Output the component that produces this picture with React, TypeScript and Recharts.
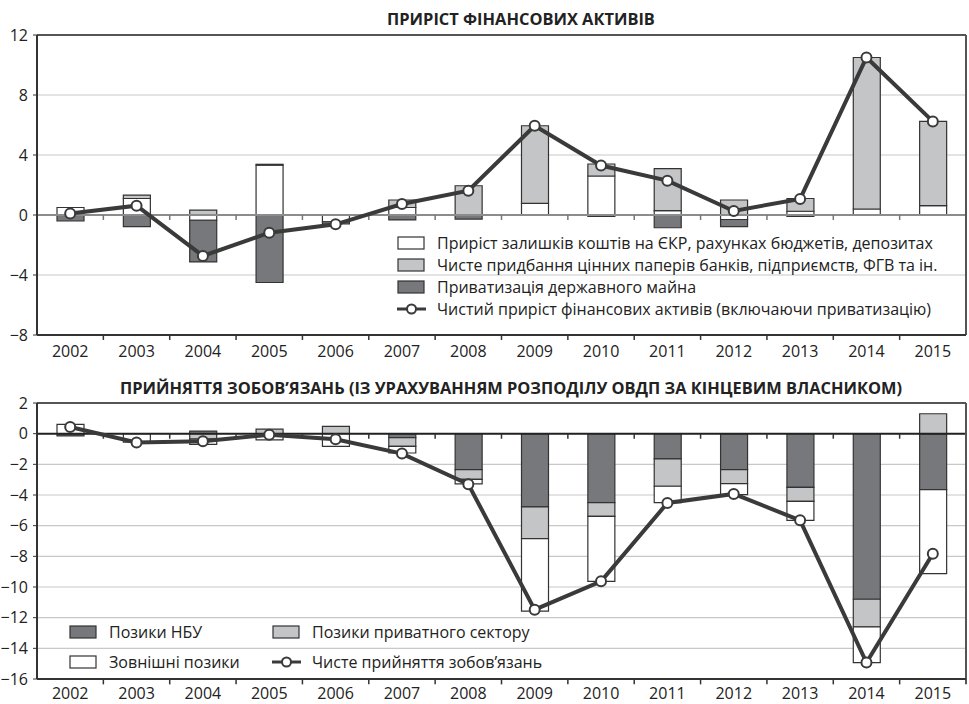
import React from "react";
import { ComposedChart, Bar, Line, XAxis, YAxis, CartesianGrid, ReferenceLine, Legend } from "recharts";

const years = ["2002", "2003", "2004", "2005", "2006", "2007", "2008", "2009", "2010", "2011", "2012", "2013", "2014", "2015"];

// приріст фінансових активів
const depositGrowth = [0.5, 1.1, -0.35, 3.33, -0.45, 0.5, 0, 0.78, 2.6, 0.29, -0.3, 0.25, 0.4, 0.62];
const securitiesPurchase = [0, 0.23, 0.33, 0.05, 0, 0.5, 1.95, 5.17, 0.8, 2.8, 1.0, 0.85, 10.1, 5.62];
const privatization = [-0.4, -0.78, -2.78, -4.5, -0.15, -0.33, -0.27, 0, -0.1, -0.85, -0.48, -0.1, 0, 0];
const netAssets = [0.1, 0.62, -2.73, -1.18, -0.62, 0.73, 1.62, 5.95, 3.3, 2.29, 0.27, 1.07, 10.5, 6.24];
const topNames = [
  "Приріст залишків коштів на ЄКР, рахунках бюджетів, депозитах",
  "Чисте придбання цінних паперів банків, підприємств, ФГВ та ін.",
  "Приватизація державного майна",
  "Чистий приріст фінансових активів (включаючи приватизацію)",
];

// прийняття зобов'язань
const nbuLoans = [-0.15, 0, 0.17, 0, 0, -0.26, -2.35, -4.78, -4.5, -1.65, -2.35, -3.5, -10.8, -3.65];
const privateLoans = [0, 0, -0.35, 0.3, 0.48, -0.57, -0.63, -2.07, -0.89, -1.78, -0.91, -0.91, -1.8, 1.3];
const externalLoans = [0.6, -0.55, -0.35, -0.4, -0.83, -0.43, -0.3, -4.72, -4.24, -1.07, -0.72, -1.24, -2.33, -5.48];
const netLiabilities = [0.43, -0.57, -0.5, -0.07, -0.37, -1.3, -3.3, -11.48, -9.63, -4.52, -3.93, -5.65, -14.93, -7.83];
const bottomNames = ["Позики НБУ", "Позики приватного сектору", "Зовнішні позики", "Чисте прийняття зобов’язань"];

const topTicks = [12, 8, 4, 0, -4, -8];
const bottomTicks = [2, 0, -2, -4, -6, -8, -10, -12, -14, -16];
const boundaries = [1, 2, 3, 4, 5, 6, 7, 8, 9, 10, 11, 12, 13];

const FONT = '"Open Sans", sans-serif';
const DARK = "#77787b";
const LIGHT = "#c4c5c7";
const LINE = "#3a3a3a";

const topData = years.map((year, i) => ({
  year,
  pos: i + 0.5,
  deposits: depositGrowth[i],
  securities: securitiesPurchase[i],
  privat: privatization[i],
  net: netAssets[i],
}));

const bottomData = years.map((year, i) => ({
  year,
  pos: i + 0.5,
  nbu: nbuLoans[i],
  priv: privateLoans[i],
  ext: externalLoans[i],
  net: netLiabilities[i],
}));

const fmt = (v: number) => (v < 0 ? `\u2212${Math.abs(v)}` : `${v}`);

function LegendIcon({ type, color }: { type: string; color: string }) {
  if (type === "line") {
    return (
      <svg width={29} height={14} style={{ display: "block", flexShrink: 0 }}>
        <line x1={0} y1={7} x2={29} y2={7} stroke={LINE} strokeWidth={3} />
        <circle cx={14.5} cy={7} r={4.5} fill="#fff" stroke={LINE} strokeWidth={2} />
      </svg>
    );
  }
  return (
    <svg width={29} height={14} style={{ display: "block", flexShrink: 0 }}>
      <rect x={1} y={1} width={26} height={12} fill={color} stroke="#333" strokeWidth={1.2} />
    </svg>
  );
}

const makeLegend = (order: string[], rowGap: number, colWidths: number[]) => (props: any) => {
  const items = [...(props.payload || [])].sort((a: any, b: any) => order.indexOf(a.value) - order.indexOf(b.value));
  return (
    <div
      style={{
        display: "grid",
        gridTemplateColumns: colWidths.map((w) => `${w}px`).join(" "),
        rowGap,
        fontFamily: FONT,
        fontSize: 16,
        color: "#222",
      }}
    >
      {items.map((entry: any, k: number) => (
        <div key={k} style={{ display: "flex", alignItems: "center", gap: 11, height: 20, whiteSpace: "nowrap" }}>
          <LegendIcon type={entry.type} color={entry.payload?.fill ?? entry.color} />
          <span>{entry.value}</span>
        </div>
      ))}
    </div>
  );
};

const titleStyle: React.CSSProperties = {
  position: "absolute",
  fontFamily: FONT,
  fontWeight: 700,
  fontSize: 16.4,
  color: "#222",
  whiteSpace: "nowrap",
  transform: "translateX(-50%)",
};

const tickStyle = { fill: "#222", fontSize: 16, fontFamily: FONT };

export default function App() {
  return (
    <div style={{ position: "fixed", left: 0, top: 0, width: 969, height: 704, background: "#fff" }}>
      <div style={{ ...titleStyle, left: 521, top: 7 }}>ПРИРІСТ ФІНАНСОВИХ АКТИВІВ</div>
      <div style={{ position: "absolute", left: 0, top: 0 }}>
        <ComposedChart
          width={969}
          height={370}
          data={topData}
          margin={{ top: 35, right: 3, bottom: 0, left: 0 }}
          stackOffset="sign"
          barSize={27}
        >
          <CartesianGrid vertical={false} stroke="#c8c8c8" strokeWidth={1.2} />
          <XAxis
            dataKey="year"
            interval={0}
            height={35}
            tickLine={false}
            tickMargin={5}
            axisLine={{ stroke: "#333", strokeWidth: 2 }}
            tick={tickStyle}
          />
          <XAxis xAxisId="num" dataKey="pos" type="number" domain={[0, 14]} hide />
          <YAxis
            domain={[-8, 12]}
            ticks={topTicks}
            interval={0}
            width={37}
            tickSize={4}
            tickMargin={5}
            tickFormatter={fmt}
            axisLine={{ stroke: "#333", strokeWidth: 2 }}
            tickLine={{ stroke: "#333" }}
            tick={tickStyle}
          />
          <ReferenceLine y={12} stroke="#555" strokeWidth={2} />
          <ReferenceLine y={0} stroke="#8c8c8c" strokeWidth={2} />
          <ReferenceLine xAxisId="num" segment={[{ x: 14, y: -8 }, { x: 14, y: 12 }]} stroke="#555" strokeWidth={2} ifOverflow="visible" />
          {boundaries.map((b) => (
            <ReferenceLine key={`z${b}`} xAxisId="num" segment={[{ x: b, y: 0 }, { x: b, y: -0.33 }]} stroke="#777" strokeWidth={1.5} ifOverflow="visible" />
          ))}
          {boundaries.map((b) => (
            <ReferenceLine key={`b${b}`} xAxisId="num" segment={[{ x: b, y: -8 }, { x: b, y: -8.33 }]} stroke="#333" strokeWidth={1.5} ifOverflow="visible" />
          ))}
          <Bar dataKey="deposits" name={topNames[0]} stackId="a" fill="#ffffff" stroke="#333" strokeWidth={1.2} isAnimationActive={false} />
          <Bar dataKey="securities" name={topNames[1]} stackId="a" fill={LIGHT} stroke="#333" strokeWidth={1.2} isAnimationActive={false} />
          <Bar dataKey="privat" name={topNames[2]} stackId="a" fill={DARK} stroke="#333" strokeWidth={1.2} isAnimationActive={false} />
          <Line
            dataKey="net"
            name={topNames[3]}
            type="linear"
            stroke={LINE}
            strokeWidth={4}
            dot={{ r: 5, fill: "#fff", stroke: LINE, strokeWidth: 2 }}
            isAnimationActive={false}
          />
          <Legend
            layout="horizontal"
            verticalAlign="middle"
            align="center"
            wrapperStyle={{ left: 397, top: 233, width: 565 }}
            content={makeLegend(topNames, 2, [565])}
          />
        </ComposedChart>
      </div>

      <div style={{ ...titleStyle, left: 511, top: 376 }}>
        ПРИЙНЯТТЯ ЗОБОВ’ЯЗАНЬ (ІЗ УРАХУВАННЯМ РОЗПОДІЛУ ОВДП ЗА КІНЦЕВИМ ВЛАСНИКОМ)
      </div>
      <div style={{ position: "absolute", left: 0, top: 370 }}>
        <ComposedChart
          width={969}
          height={334}
          data={bottomData}
          margin={{ top: 33, right: 3, bottom: 0, left: 0 }}
          stackOffset="sign"
          barSize={27}
        >
          <CartesianGrid vertical={false} stroke="#c8c8c8" strokeWidth={1.2} />
          <XAxis
            dataKey="year"
            interval={0}
            height={25}
            tickLine={false}
            tickMargin={3}
            axisLine={{ stroke: "#333", strokeWidth: 2 }}
            tick={tickStyle}
          />
          <XAxis xAxisId="num" dataKey="pos" type="number" domain={[0, 14]} hide />
          <YAxis
            domain={[-16, 2]}
            ticks={bottomTicks}
            interval={0}
            width={37}
            tickSize={4}
            tickMargin={5}
            tickFormatter={fmt}
            axisLine={{ stroke: "#333", strokeWidth: 2 }}
            tickLine={{ stroke: "#333" }}
            tick={tickStyle}
          />
          <ReferenceLine y={2} stroke="#555" strokeWidth={2} />
          <ReferenceLine y={0} stroke="#222" strokeWidth={2} />
          <ReferenceLine xAxisId="num" segment={[{ x: 14, y: -16.35 }, { x: 14, y: 2 }]} stroke="#555" strokeWidth={2} ifOverflow="visible" />
          {boundaries.map((b) => (
            <ReferenceLine key={`z${b}`} xAxisId="num" segment={[{ x: b, y: 0 }, { x: b, y: -0.33 }]} stroke="#333" strokeWidth={1.5} ifOverflow="visible" />
          ))}
          {boundaries.map((b) => (
            <ReferenceLine key={`b${b}`} xAxisId="num" segment={[{ x: b, y: -16 }, { x: b, y: -16.35 }]} stroke="#333" strokeWidth={1.5} ifOverflow="visible" />
          ))}
          <Bar dataKey="nbu" name={bottomNames[0]} stackId="b" fill={DARK} stroke="#333" strokeWidth={1.2} isAnimationActive={false} />
          <Bar dataKey="priv" name={bottomNames[1]} stackId="b" fill={LIGHT} stroke="#333" strokeWidth={1.2} isAnimationActive={false} />
          <Bar dataKey="ext" name={bottomNames[2]} stackId="b" fill="#ffffff" stroke="#333" strokeWidth={1.2} isAnimationActive={false} />
          <Line
            dataKey="net"
            name={bottomNames[3]}
            type="linear"
            stroke={LINE}
            strokeWidth={4}
            dot={{ r: 5, fill: "#fff", stroke: LINE, strokeWidth: 2 }}
            isAnimationActive={false}
          />
          <Legend
            layout="horizontal"
            verticalAlign="middle"
            align="center"
            wrapperStyle={{ left: 69, top: 252, width: 460 }}
            content={makeLegend(bottomNames, 10, [203, 257])}
          />
        </ComposedChart>
      </div>
    </div>
  );
}
